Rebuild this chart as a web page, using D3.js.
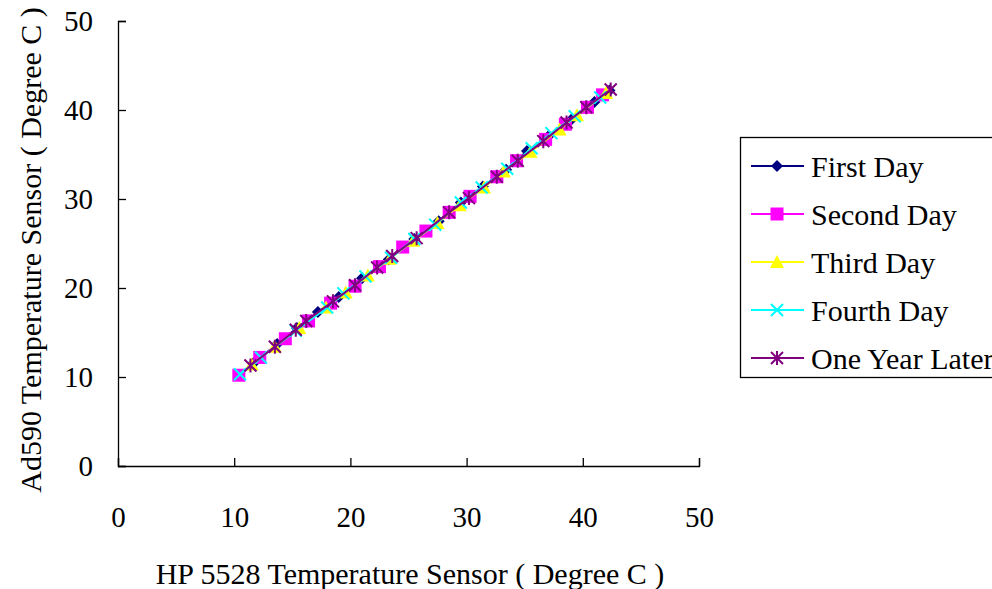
<!DOCTYPE html>
<html>
<head>
<meta charset="utf-8">
<script src="https://cdn.jsdelivr.net/npm/d3@7"></script>
<style>
  body { margin: 0; background: #fff; }
  svg { display: block; font-family: 'Liberation Serif', 'DejaVu Serif', serif; }
</style>
</head>
<body>
<svg id="chart" width="992" height="589"></svg>
<script>
'use strict';

// readings (degree C)
var seriesNames = ['First Day', 'Second Day', 'Third Day', 'Fourth Day', 'One Year Later'];
var firstDayX = [11.7, 13.7, 15.4, 17.2, 19.0, 21.0, 23.3, 25.5, 27.6, 29.5, 31.4, 33.4, 35.2, 37.0, 39.0, 41.0, 42.3];
var firstDayY = [11.6, 13.7, 15.5, 17.3, 19.0, 21.1, 23.2, 25.5, 27.5, 29.6, 31.4, 33.3, 35.4, 37.0, 38.9, 40.9, 42.2];
var secondDayX = [10.4, 12.2, 14.4, 16.4, 18.3, 20.4, 22.5, 24.5, 26.5, 28.5, 30.3, 32.6, 34.3, 36.8, 38.5, 40.4, 41.7];
var secondDayY = [10.2, 12.2, 14.3, 16.3, 18.3, 20.2, 22.4, 24.6, 26.4, 28.5, 30.3, 32.5, 34.3, 36.7, 38.4, 40.3, 41.7];
var thirdDayX = [11.5, 13.5, 15.6, 17.9, 19.6, 21.5, 23.4, 25.4, 27.5, 29.4, 31.5, 33.2, 35.5, 38.0, 39.5, 42.0];
var thirdDayY = [11.4, 13.4, 15.5, 17.8, 19.5, 21.4, 23.3, 25.3, 27.3, 29.3, 31.3, 33.1, 35.3, 37.8, 39.4, 41.9];
var fourthDayX = [10.5, 12.3, 15.3, 18.0, 19.4, 21.3, 23.5, 25.5, 27.3, 29.5, 31.3, 33.5, 35.6, 37.3, 39.3, 41.5];
var fourthDayY = [10.3, 12.2, 15.2, 17.8, 19.4, 21.3, 23.4, 25.5, 27.1, 29.6, 31.3, 33.4, 35.7, 37.4, 39.3, 41.4];
var yearLaterX = [11.4, 13.5, 15.3, 16.2, 18.5, 20.4, 22.3, 23.6, 25.7, 28.5, 30.2, 32.6, 34.4, 36.6, 38.6, 40.3, 42.4];
var yearLaterY = [11.3, 13.4, 15.3, 16.3, 18.5, 20.3, 22.3, 23.6, 25.6, 28.5, 30.1, 32.5, 34.3, 36.5, 38.6, 40.3, 42.3];
var seriesColors = ['#000080', '#ff00ff', '#ffff00', '#00ffff', '#800080'];
var seriesMarkers = ['diamond', 'square', 'triangle', 'cross', 'asterisk'];
var tickValues = [0, 10, 20, 30, 40, 50];

var xTitle = 'HP 5528 Temperature Sensor ( Degree C )';
var yTitle = 'Ad590 Temperature Sensor ( Degree C )';

var svg = d3.select('#chart');

var x = d3.scaleLinear().domain([0, 50]).range([118, 699]);
var y = d3.scaleLinear().domain([0, 50]).range([466, 21]);

function zipSeries(xs, ys) {
    return xs.map(function (v, i) { return { x: v, y: ys[i] }; });
}

var allSeries = [
    zipSeries(firstDayX, firstDayY),
    zipSeries(secondDayX, secondDayY),
    zipSeries(thirdDayX, thirdDayY),
    zipSeries(fourthDayX, fourthDayY),
    zipSeries(yearLaterX, yearLaterY)
].map(function (pts, i) {
    return { name: seriesNames[i], color: seriesColors[i], marker: seriesMarkers[i], points: pts };
});

// axes, ticks pointing inward
var xAxis = svg.append('g')
    .attr('transform', 'translate(0,' + y(0) + ')')
    .call(d3.axisBottom(x).tickValues(tickValues).tickSize(-8).tickPadding(40));
var yAxis = svg.append('g')
    .attr('transform', 'translate(' + x(0) + ',0)')
    .call(d3.axisLeft(y).tickValues(tickValues).tickSize(-8).tickPadding(25));

[xAxis, yAxis].forEach(function (ax) {
    ax.select('.domain').attr('stroke', '#000').attr('stroke-width', 1.3);
    ax.selectAll('.tick line').attr('stroke', '#000').attr('stroke-width', 1.3);
    ax.selectAll('.tick text')
        .attr('fill', '#000')
        .style('font-family', "'Liberation Serif', serif")
        .style('font-size', '29px');
});
xAxis.selectAll('.tick text').attr('dy', '0.71em');

svg.append('text')
    .attr('x', 410)
    .attr('y', 584)
    .attr('text-anchor', 'middle')
    .style('font-size', '30px')
    .text(xTitle);

svg.append('text')
    .attr('transform', 'translate(41,250) rotate(-90)')
    .attr('text-anchor', 'middle')
    .style('font-size', '30px')
    .text(yTitle);

function drawMarker(g, type, color) {
    if (type === 'diamond') {
        g.append('path').attr('d', 'M0,-6L6,0L0,6L-6,0Z').attr('fill', color);
    } else if (type === 'square') {
        g.append('rect').attr('x', -6.5).attr('y', -6.5).attr('width', 13).attr('height', 13).attr('fill', color);
    } else if (type === 'triangle') {
        g.append('path').attr('d', 'M0,-7L7,6L-7,6Z').attr('fill', color);
    } else if (type === 'cross') {
        g.append('path').attr('d', 'M-6,-6L6,6M-6,6L6,-6').attr('stroke', color).attr('stroke-width', 2).attr('fill', 'none');
    } else if (type === 'asterisk') {
        g.append('path').attr('d', 'M-6,-6L6,6M-6,6L6,-6M0,-7L0,7').attr('stroke', color).attr('stroke-width', 2).attr('fill', 'none');
    }
}

var line = d3.line()
    .x(function (d) { return x(d.x); })
    .y(function (d) { return y(d.y); });

allSeries.forEach(function (s) {
    var g = svg.append('g');
    g.append('path')
        .datum(s.points)
        .attr('d', line)
        .attr('fill', 'none')
        .attr('stroke', s.color)
        .attr('stroke-width', 2);
    g.selectAll('.pt')
        .data(s.points)
        .enter().append('g')
        .attr('class', 'pt')
        .attr('transform', function (d) { return 'translate(' + x(d.x) + ',' + y(d.y) + ')'; })
        .each(function () { drawMarker(d3.select(this), s.marker, s.color); });
});

// legend
var legend = svg.append('g');
legend.append('rect')
    .attr('x', 740.5).attr('y', 137.5)
    .attr('width', 270).attr('height', 240)
    .attr('fill', '#fff')
    .attr('stroke', '#000')
    .attr('stroke-width', 1.3);

var items = legend.selectAll('.item')
    .data(allSeries)
    .enter().append('g')
    .attr('class', 'item')
    .attr('transform', function (d, i) { return 'translate(0,' + (166 + i * 48) + ')'; });
items.append('line')
    .attr('x1', 751).attr('x2', 804)
    .attr('stroke', function (d) { return d.color; })
    .attr('stroke-width', 2);
items.append('g')
    .attr('transform', 'translate(777,0)')
    .each(function (d) { drawMarker(d3.select(this), d.marker, d.color); });
items.append('text')
    .attr('x', 811)
    .attr('dy', '0.35em')
    .style('font-size', '30px')
    .text(function (d) { return d.name; });
</script>
</body>
</html>
